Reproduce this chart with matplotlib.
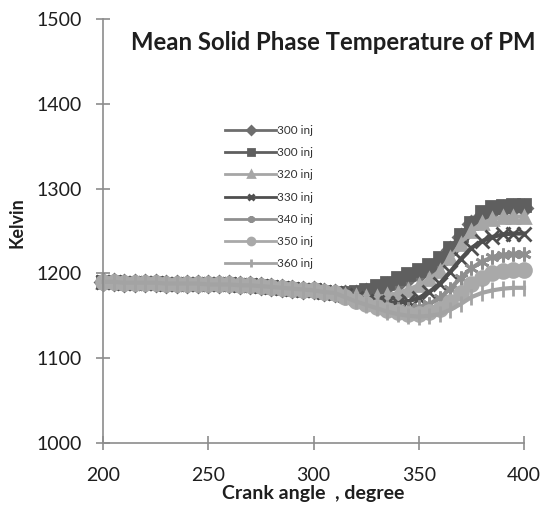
import matplotlib
matplotlib.use("Agg")
import matplotlib.pyplot as plt

plt.rcParams['font.family'] = ['Lato', 'DejaVu Sans']

# crank angle, degree
angle = list(range(200, 405, 5))

# shared part 200..310 (all injection timings coincide)
common = [1190, 1190, 1189, 1189, 1189, 1189, 1188, 1188, 1188, 1188, 1187, 1187,
          1187, 1186, 1186, 1185, 1184, 1183, 1182, 1181, 1180, 1178, 1177]

s_diamond = common + [1176, 1176, 1178, 1181, 1185, 1189, 1194, 1199, 1206, 1215,
                      1228, 1243, 1258, 1268, 1274, 1276, 1277, 1277]
s_square = common + [1177, 1178, 1181, 1185, 1189, 1194, 1199, 1204, 1210, 1218,
                     1230, 1245, 1260, 1272, 1278, 1280, 1281, 1281]
s_triangle = common + [1175, 1173, 1172, 1172, 1174, 1177, 1181, 1186, 1193, 1203,
                       1218, 1235, 1250, 1259, 1264, 1266, 1267, 1267]
s_x = common + [1174, 1171, 1168, 1166, 1165, 1165, 1167, 1171, 1178, 1188,
                1202, 1217, 1230, 1238, 1243, 1246, 1247, 1247]
s_star = common + [1173, 1169, 1165, 1162, 1160, 1158, 1158, 1160, 1164, 1171,
                   1182, 1195, 1206, 1214, 1219, 1222, 1223, 1223]
s_circle = common + [1172, 1168, 1164, 1160, 1157, 1154, 1152, 1152, 1154, 1158,
                     1166, 1177, 1188, 1195, 1200, 1203, 1204, 1204]
s_plus = common + [1172, 1167, 1163, 1159, 1155, 1152, 1150, 1149, 1150, 1152,
                   1157, 1164, 1172, 1177, 1180, 1182, 1183, 1183]

labels = ['300 inj', '300 inj', '320 inj', '330 inj', '340 inj', '350 inj', '360 inj']
series = [s_diamond, s_square, s_triangle, s_x, s_star, s_circle, s_plus]
markers = ['D', 's', '^', 'x', (6, 2, 0), 'o', '|']
colors = ['#6e6e6e', '#5f5f5f', '#a6a6a6', '#4f4f4f', '#8f8f8f', '#a9a9a9', '#a3a3a3']
msizes = [8, 9, 9, 10, 10, 10, 11]

fig = plt.figure(figsize=(5.45, 5.12), dpi=100)
ax = fig.add_axes([103 / 545, 1 - 443 / 512, 421 / 545, 424 / 512])

for y, lab, m, c, ms in zip(series, labels, markers, colors, msizes):
    ax.plot(angle, y, color=c, linewidth=3, marker=m, markersize=ms,
            markeredgewidth=2, markeredgecolor=c, label=lab, clip_on=False)

ax.set_xlim(200, 400)
ax.set_ylim(1000, 1500)
ax.set_xticks([200, 250, 300, 350, 400])
ax.set_yticks([1000, 1100, 1200, 1300, 1400, 1500])

for side in ['top', 'right']:
    ax.spines[side].set_visible(False)
for side in ['left', 'bottom']:
    ax.spines[side].set_color('#8c8c8c')
    ax.spines[side].set_linewidth(1.2)
ax.tick_params(direction='inout', length=10, width=1.2, color='#8c8c8c',
               labelsize=14, labelcolor='#1e1e1e')
ax.tick_params(axis='y', pad=10)
ax.tick_params(axis='x', pad=12)
ax.grid(False)

ax.set_xlabel('Crank angle  , degree', fontsize=14, fontweight='bold', color='#1e1e1e', labelpad=1)
ax.set_ylabel('Kelvin', fontsize=13, fontweight='bold', color='#1e1e1e')
ax.yaxis.set_label_coords(-0.185, 0.52)

fig.text(333 / 545, 1 - 42 / 512, 'Mean Solid Phase Temperature of PM',
         ha='center', va='center', fontsize=17.2, fontweight='bold', color='#1e1e1e')

leg = ax.legend(loc='upper left', bbox_to_anchor=(0.265, 0.775), frameon=False,
                fontsize=8.5, handlelength=4.3, handletextpad=0.1, labelspacing=0.95,
                markerscale=0.5)
for t in leg.get_texts():
    t.set_color('#333333')
for ln in leg.get_lines():
    ln.set_linewidth(2)

fig.savefig('out.png', dpi=100)
